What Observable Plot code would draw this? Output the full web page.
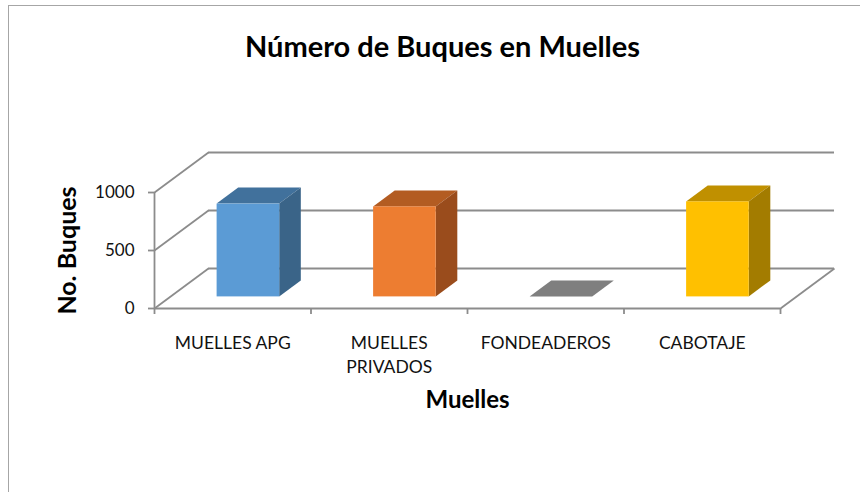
<!DOCTYPE html>
<html><head><meta charset="utf-8">
<script src="https://cdn.jsdelivr.net/npm/d3@7"></script>
<script src="https://cdn.jsdelivr.net/npm/@observablehq/plot@0.6"></script>
<style>
body{margin:0;background:#fff;}
#wrap{position:relative;width:860px;height:492px;overflow:hidden;background:#fff;}
#frame{position:absolute;left:8px;top:5px;width:1000px;height:1000px;border:1px solid #a6a6a6;box-sizing:border-box;}
#chart{position:absolute;left:0;top:0;}
</style></head><body>
<div id="wrap"><div id="frame"></div><div id="chart"></div></div>
<script>
// ---- data ----
const categories = ["MUELLES APG", "MUELLES\nPRIVADOS", "FONDEADEROS", "CABOTAJE"];
const values = [800, 776, 0, 819];
const yTicks = [0, 500, 1000];
const frontColors = ["#5b9bd5", "#ed7d31", "#a5a5a5", "#ffc000"];
const topColors = ["#41719c", "#b35c22", "#7f7f7f", "#c09000"];
const sideColors = ["#3a6488", "#9a4c1c", "#6e6e6e", "#a37c00"];
const title = "Número de Buques en Muelles";
const xTitle = "Muelles";
const yTitle = "No. Buques";

// ---- oblique 3D projection (depth expressed in scale units) ----
const n = categories.length;
const yMax = d3.max(yTicks);
const kx = 0.345;          // full depth, in category units
const ky = 0.345 * yMax;   // full depth, in value units
const dFront = 0.29, dBack = 0.69, inset = 0.3;

const bars = categories.map((c, i) => ({i, c, v: values[i]}));
const fronts = bars.map(b => ({
  i: b.i,
  x1: b.i + inset + dFront * kx, x2: b.i + 1 - inset + dFront * kx,
  y1: dFront * ky, y2: b.v + dFront * ky, fill: frontColors[b.i]
}));
const tops = bars.flatMap(b => [dFront, dBack].map(d => ({
  i: b.i, y: b.v + d * ky,
  x1: b.i + inset + d * kx, x2: b.i + 1 - inset + d * kx, fill: topColors[b.i]
})));
const sides = bars.flatMap(b => [dFront, dBack].map(d => ({
  i: b.i, x: b.i + 1 - inset + d * kx,
  y1: d * ky, y2: b.v + d * ky, fill: sideColors[b.i]
})));

const grid = "#8c8c8c", gw = 1.8;
const boundaries = d3.range(n + 1);
const centers = d3.range(n).map(i => i + 0.5);

const chart = Plot.plot({
  width: 860, height: 492,
  marginLeft: 154, marginRight: 26, marginTop: 152, marginBottom: 184,
  style: {fontFamily: "Lato, 'Open Sans', sans-serif", color: "#000", background: "transparent"},
  x: {type: "linear", domain: [0, n + kx]},
  y: {type: "linear", domain: [0, yMax + ky]},
  color: {type: "identity"},
  marks: [
    // back wall gridlines
    Plot.ruleY(yTicks, {y: d => d + ky, x1: () => kx, x2: () => n + kx, stroke: grid, strokeWidth: gw}),
    // side wall diagonals
    Plot.link(yTicks, {x1: () => 0, y1: d => d, x2: () => kx, y2: d => d + ky, stroke: grid, strokeWidth: gw}),
    // floor front edge and right edge
    Plot.ruleY([0], {x1: () => 0, x2: () => n, stroke: grid, strokeWidth: gw}),
    Plot.link([0], {x1: () => n, y1: () => 0, x2: () => n + kx, y2: () => ky, stroke: grid, strokeWidth: gw}),
    // front vertical axis
    Plot.ruleX([0], {y1: () => 0, y2: () => yMax, stroke: grid, strokeWidth: gw}),
    Plot.axisY({ticks: yTicks, tickSize: 6, tickPadding: 14, tickFormat: d => String(d), stroke: grid, strokeWidth: gw, fill: "#111", fontSize: 17, label: null}),
    Plot.axisX({ticks: boundaries, tickSize: 6, tickFormat: () => "", stroke: grid, strokeWidth: gw, label: null}),
    Plot.axisX({ticks: centers, tickSize: 0, tickPadding: 23, tickFormat: d => categories[Math.floor(d)], fill: "#111", fontSize: 17.5, lineHeight: 1.4, label: null}),
    // 3D bars
    Plot.areaX(tops, {y: "y", x1: "x1", x2: "x2", z: "i", fill: "fill", curve: "linear"}),
    Plot.areaY(sides, {x: "x", y1: "y1", y2: "y2", z: "i", fill: "fill", curve: "linear"}),
    Plot.rect(fronts, {x1: "x1", x2: "x2", y1: "y1", y2: "y2", fill: "fill"}),
    // titles
    Plot.text([title], {frameAnchor: "top", textAnchor: "middle", lineAnchor: "middle", dx: -52, dy: -104.6, text: d => d, fontSize: 29, fontWeight: "bold", fill: "#000"}),
    Plot.text([xTitle], {x: () => n / 2, frameAnchor: "bottom", textAnchor: "middle", lineAnchor: "middle", dy: 91.6, text: d => d, fontSize: 24, fontWeight: "bold", fill: "#000"}),
    Plot.text([yTitle], {y: () => yMax / 2, frameAnchor: "left", textAnchor: "middle", lineAnchor: "middle", dx: -87, rotate: -90, text: d => d, fontSize: 25, fontWeight: "bold", fill: "#000"})
  ]
});
document.getElementById("chart").appendChild(chart);
</script>
</body></html>
